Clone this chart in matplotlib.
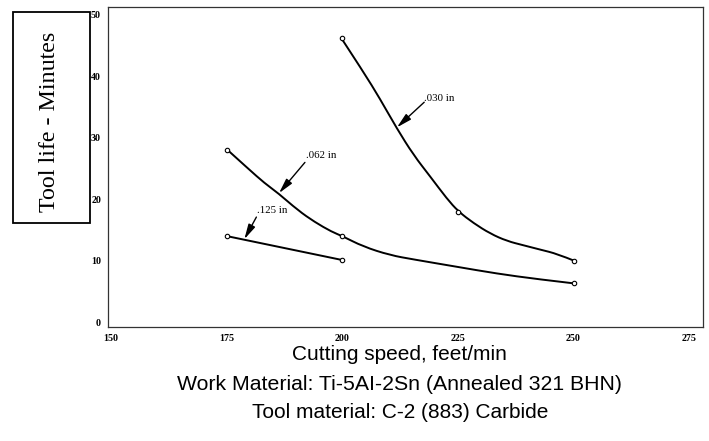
import matplotlib.pyplot as plt
from matplotlib.patches import Rectangle, PathPatch
from matplotlib.path import Path

# curves (speed ft/min, tool life min)
speed_030 = [199.8, 204.5, 208.1, 211.8, 215.4, 219.0, 222.6, 225.1, 228.4,
             232.0, 235.6, 239.2, 242.8, 246.5, 250.1]
life_030 = [46.2, 40.8, 36.4, 31.5, 27.2, 23.7, 20.1, 18.0, 16.1,
            14.4, 13.2, 12.5, 11.8, 11.1, 10.0]
speed_062 = [175.2, 179.6, 183.2, 186.1, 190.4, 194.0, 197.7, 200.0, 204.5,
             210.3, 215.4, 224.8, 233.4, 242.1, 250.1]
life_062 = [28.0, 25.0, 22.6, 21.0, 18.2, 16.3, 14.7, 14.0, 12.3,
            10.9, 10.2, 9.0, 7.9, 7.0, 6.3]
speed_125 = [175, 200]
life_125 = [14.0, 10.1]

# measured points
pts_030_x = [200, 225, 250]
pts_030_y = [46.2, 18.0, 10.0]
pts_062_x = [175, 200, 250]
pts_062_y = [28.0, 14.0, 6.3]
pts_125_x = [175, 200]
pts_125_y = [14.0, 10.1]

xticks = [150, 175, 200, 225, 250, 275]
yticks = [0, 10, 20, 30, 40, 50]


def smooth_path(xs, ys):
    # quadratic bezier through the midpoints, the read points act as control points
    pts = list(zip(xs, ys))
    verts = [pts[0]]
    codes = [Path.MOVETO]
    for i in range(1, len(pts) - 1):
        mid = ((pts[i][0] + pts[i + 1][0]) / 2, (pts[i][1] + pts[i + 1][1]) / 2)
        if i == len(pts) - 2:
            mid = pts[-1]
        verts += [pts[i], mid]
        codes += [Path.CURVE3, Path.CURVE3]
    if len(pts) == 2:
        verts.append(pts[1])
        codes.append(Path.LINETO)
    return Path(verts, codes)


fig = plt.figure(figsize=(7.09, 4.41), dpi=100)
ax = fig.add_axes([0.1523, 0.2585, 0.8392, 0.7256])

for sx, ly in [(speed_030, life_030), (speed_062, life_062), (speed_125, life_125)]:
    ax.add_patch(PathPatch(smooth_path(sx, ly), fill=False, edgecolor='black', lw=1.4,
                           capstyle='round', joinstyle='round'))
for px, py in [(pts_030_x, pts_030_y), (pts_062_x, pts_062_y), (pts_125_x, pts_125_y)]:
    ax.plot(px, py, 'o', ms=3.2, mfc='white', mec='black', mew=0.8)

ax.set_xlim(149.3, 278)
ax.set_ylim(-0.8, 51.3)
ax.set_xticks(xticks)
ax.set_yticks(yticks)
ax.tick_params(length=0, labelsize=7.2, pad=5)
for lab in ax.get_xticklabels() + ax.get_yticklabels():
    lab.set_fontfamily('Liberation Serif')
    lab.set_fontweight('bold')
for s in ax.spines.values():
    s.set_linewidth(0.9)
    s.set_color('#333333')

arrow = dict(arrowstyle='-|>,head_length=0.9,head_width=0.22', color='black',
             lw=1.0, shrinkA=0, shrinkB=0)
ax.annotate('', xy=(211.8, 31.7), xytext=(217.7, 35.8), arrowprops=arrow)
ax.text(217.6, 36.4, '.030 in', fontsize=7.8, family='Liberation Serif', va='center')
ax.annotate('', xy=(186.3, 21.0), xytext=(191.9, 26.0), arrowprops=arrow)
ax.text(192.2, 27.2, '.062 in', fontsize=7.8, family='Liberation Serif', va='center')
ax.annotate('', xy=(178.8, 13.5), xytext=(181.4, 17.1), arrowprops=arrow)
ax.text(181.5, 18.2, '.125 in', fontsize=7.8, family='Liberation Serif', va='center')

# boxed y label
fig.patches.append(Rectangle((0.0183, 0.4943), 0.1086, 0.4785, transform=fig.transFigure,
                             fill=False, edgecolor='black', lw=1.3))
fig.text(0.0705, 0.7234, 'Tool life - Minutes', rotation=90, fontsize=17.3,
         family='Liberation Serif', ha='center', va='center')

fig.text(0.564, 1 - 355 / 441, 'Cutting speed, feet/min', fontsize=15,
         family='Liberation Sans', ha='center', va='center')
fig.text(0.564, 1 - 385 / 441, 'Work Material: Ti-5AI-2Sn (Annealed 321 BHN)', fontsize=15.3,
         family='Liberation Sans', ha='center', va='center')
fig.text(0.564, 1 - 413 / 441, 'Tool material: C-2 (883) Carbide', fontsize=15,
         family='Liberation Sans', ha='center', va='center')

fig.savefig('out.png', dpi=100)
